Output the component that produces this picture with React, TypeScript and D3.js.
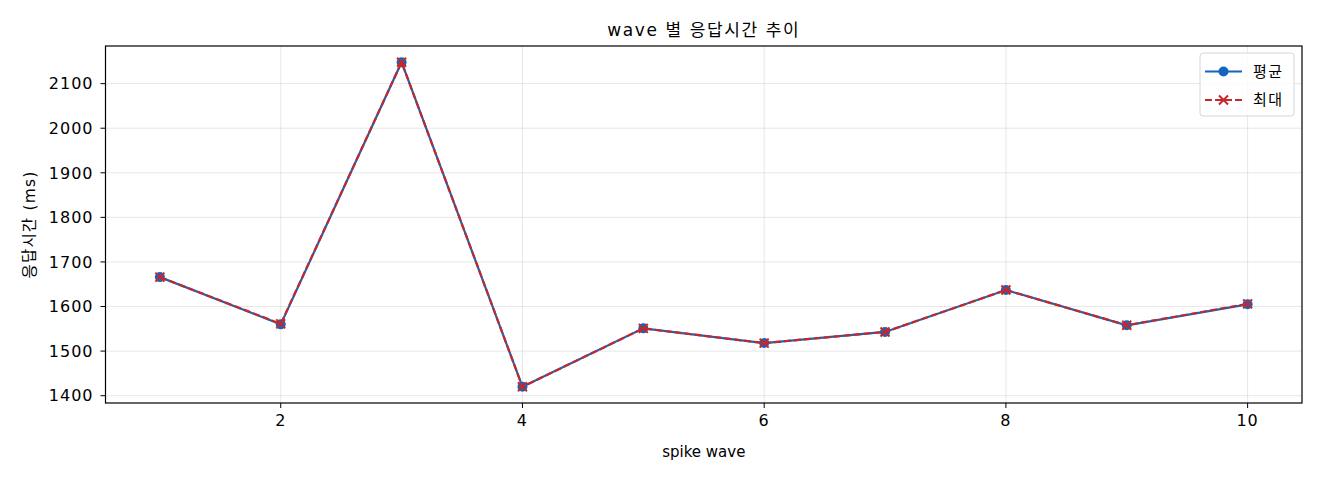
import { useEffect } from 'react';
import * as d3 from 'd3';

// spike wave 번호
const waves = [1, 2, 3, 4, 5, 6, 7, 8, 9, 10];
// 평균 응답시간 (ms)
const avgMs = [1666, 1560, 2148, 1420, 1551, 1518, 1543, 1637, 1558, 1605];
// 최대 응답시간 (ms)
const maxMs = [1666, 1561, 2148, 1420, 1551, 1518, 1543, 1637, 1558, 1606];
const xTicks = [2, 4, 6, 8, 10];
const yTicks = [1400, 1500, 1600, 1700, 1800, 1900, 2000, 2100];

const W = 1320;
const H = 480;
const margin = { top: 46, right: 18, bottom: 77, left: 105.5 };
const FONT = "'DejaVu Sans', 'Noto Sans CJK KR', sans-serif";
const BLUE = '#1565c0';
const RED = '#c62828';

const App = () => {
  useEffect(() => {
    document.body.style.margin = '0';
  }, []);

  const x0 = margin.left;
  const x1 = W - margin.right;
  const y0 = H - margin.bottom;
  const y1 = margin.top;

  // matplotlib-style 5% padding
  const xPad = (d3.max(waves)! - d3.min(waves)!) * 0.05;
  const all = [...avgMs, ...maxMs];
  const yMin = d3.min(all)!;
  const yMax = d3.max(all)!;
  const yPad = (yMax - yMin) * 0.05;

  const x = d3.scaleLinear()
    .domain([d3.min(waves)! - xPad, d3.max(waves)! + xPad])
    .range([x0, x1]);
  const y = d3.scaleLinear()
    .domain([yMin - yPad, yMax + yPad])
    .range([y0, y1]);

  const line = d3.line<number>()
    .x((_, i) => x(waves[i]))
    .y(d => y(d));

  const lx = 1200;
  const ly = 53;

  return (
    <svg width={W} height={H} style={{ display: 'block', background: '#fff' }} fontFamily={FONT}>
      <rect x={0} y={0} width={W} height={H} fill="#fff" />

      {/* grid */}
      {xTicks.map(t => (
        <line key={`gx${t}`} x1={x(t)} x2={x(t)} y1={y1} y2={y0} stroke="#b0b0b0" strokeOpacity={0.3} strokeWidth={1} />
      ))}
      {yTicks.map(t => (
        <line key={`gy${t}`} x1={x0} x2={x1} y1={y(t)} y2={y(t)} stroke="#b0b0b0" strokeOpacity={0.3} strokeWidth={1} />
      ))}

      {/* series */}
      <path d={line(avgMs) || ''} fill="none" stroke={BLUE} strokeWidth={2.2} />
      {avgMs.map((v, i) => (
        <circle key={`a${i}`} cx={x(waves[i])} cy={y(v)} r={5} fill={BLUE} />
      ))}
      <path d={line(maxMs) || ''} fill="none" stroke={RED} strokeWidth={2.2} strokeDasharray="7,3" />
      {maxMs.map((v, i) => {
        const cx = x(waves[i]);
        const cy = y(v);
        const s = 4.5;
        return (
          <path key={`m${i}`} d={`M${cx - s},${cy - s}L${cx + s},${cy + s}M${cx - s},${cy + s}L${cx + s},${cy - s}`}
            stroke={RED} strokeWidth={2} />
        );
      })}

      {/* axes frame */}
      <rect x={x0} y={y1} width={x1 - x0} height={y0 - y1} fill="none" stroke="#000" strokeWidth={1.2} />

      {/* x ticks */}
      {xTicks.map(t => (
        <g key={`xt${t}`}>
          <line x1={x(t)} x2={x(t)} y1={y0} y2={y0 + 5} stroke="#000" strokeWidth={1} />
          <text x={x(t)} y={y0 + 23} textAnchor="middle" fontSize={16} letterSpacing={1} fill="#000">{t}</text>
        </g>
      ))}
      {/* y ticks */}
      {yTicks.map(t => (
        <g key={`yt${t}`}>
          <line x1={x0 - 5} x2={x0} y1={y(t)} y2={y(t)} stroke="#000" strokeWidth={1} />
          <text x={x0 - 12} y={y(t)} dy="0.36em" textAnchor="end" fontSize={16} letterSpacing={1} fill="#000">{t}</text>
        </g>
      ))}

      {/* labels */}
      <text x={(x0 + x1) / 2} y={36} textAnchor="middle" fontSize={17} letterSpacing={1.6} fill="#000">wave 별 응답시간 추이</text>
      <text x={(x0 + x1) / 2} y={457} textAnchor="middle" fontSize={15} fill="#000">spike wave</text>
      <text transform={`translate(35,${(y0 + y1) / 2}) rotate(-90)`} textAnchor="middle" fontSize={15.5} letterSpacing={1.2} fill="#000">응답시간 (ms)</text>

      {/* legend */}
      <g>
        <rect x={lx} y={ly} width={94} height={63} rx={3} fill="#fff" fillOpacity={0.8} stroke="#d6d6d6" strokeWidth={1} />
        <line x1={lx + 5} x2={lx + 42} y1={ly + 18.5} y2={ly + 18.5} stroke={BLUE} strokeWidth={2.2} />
        <circle cx={lx + 23.5} cy={ly + 18.5} r={5} fill={BLUE} />
        <text x={lx + 53} y={ly + 18.5} dy="0.36em" fontSize={15} letterSpacing={1.5} fill="#000">평균</text>
        <line x1={lx + 5} x2={lx + 42} y1={ly + 47} y2={ly + 47} stroke={RED} strokeWidth={2.2} strokeDasharray="7,3" />
        <path d={`M${lx + 19},${ly + 42.5}L${lx + 28},${ly + 51.5}M${lx + 19},${ly + 51.5}L${lx + 28},${ly + 42.5}`} stroke={RED} strokeWidth={2} />
        <text x={lx + 53} y={ly + 47} dy="0.36em" fontSize={15} letterSpacing={1.5} fill="#000">최대</text>
      </g>
    </svg>
  );
};

export default App;
